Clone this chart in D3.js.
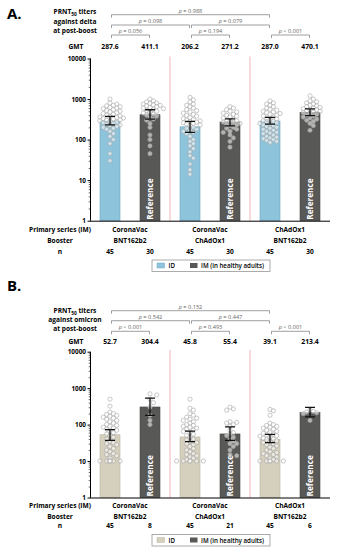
<!DOCTYPE html>
<html>
<head>
<meta charset="utf-8">
<script src="https://cdn.jsdelivr.net/npm/d3@7"></script>
<style>
  body { margin: 0; background: #fff; }
  svg text { font-family: "Open Sans", "Noto Sans", sans-serif; }
</style>
</head>
<body>
<svg id="chart" width="341" height="550"></svg>
<script>
// categories
var primarySeries = ["CoronaVac", "CoronaVac", "ChAdOx1"];
var boosters = ["BNT162b2", "ChAdOx1", "BNT162b2"];
var bars = ["ID", "IM", "ID", "IM", "ID", "IM"];
var yTicks = [1, 10, 100, 1000, 10000];

// panel A - delta
var gmtDelta = [287.6, 411.1, 206.2, 271.2, 287.0, 470.1];
var ciLowDelta = [232, 321, 150, 219, 241, 388];
var ciHighDelta = [372, 545, 280, 326, 354, 570];
var nDelta = [45, 30, 45, 30, 45, 30];
var pDelta = ["= 0.988", "= 0.098", "= 0.079", "= 0.056", "= 0.194", "< 0.001"];
var pointsDelta = [
  [1000, 800, 750, 700, 680, 650, 620, 600, 580, 550, 520, 500, 480, 460, 440, 420, 400, 380, 370, 360,
   350, 340, 330, 320, 310, 300, 290, 280, 270, 260, 250, 240, 230, 220, 210, 200, 190, 180, 160, 140,
   120, 100, 80, 45, 30],
  [1000, 900, 850, 800, 780, 750, 720, 700, 680, 650, 620, 600, 580, 550, 520, 500, 480, 450, 420, 400,
   380, 350, 320, 300, 250, 200, 130, 100, 70, 45],
  [1100, 950, 850, 750, 700, 650, 600, 550, 520, 480, 450, 420, 400, 380, 350, 330, 310, 300, 290, 280,
   270, 260, 250, 240, 230, 220, 200, 190, 180, 170, 160, 150, 140, 120, 100, 90, 80, 70, 60, 50,
   40, 35, 25, 18, 14],
  [650, 600, 550, 500, 480, 450, 420, 400, 380, 360, 340, 320, 300, 290, 280, 270, 260, 250, 240, 230,
   220, 200, 190, 180, 160, 150, 130, 110, 90, 65],
  [900, 800, 750, 700, 650, 600, 560, 530, 500, 480, 460, 440, 420, 400, 380, 360, 340, 320, 300, 290,
   280, 270, 260, 250, 240, 230, 220, 210, 200, 190, 180, 170, 160, 150, 145, 140, 130, 120, 115, 110,
   105, 100, 95, 90, 85],
  [1200, 1000, 900, 850, 800, 750, 700, 680, 650, 620, 600, 580, 560, 540, 520, 500, 480, 460, 440, 420,
   400, 380, 360, 340, 320, 300, 280, 250, 220, 170]
];

// panel B - omicron
var gmtOmicron = [52.7, 304.4, 45.8, 55.4, 39.1, 213.4];
var ciLowOmicron = [37, 180, 34, 37, 32, 163];
var ciHighOmicron = [73, 532, 66, 87, 54, 295];
var nOmicron = [45, 8, 45, 21, 45, 6];
var pOmicron = ["= 0.152", "= 0.542", "= 0.447", "< 0.001", "= 0.493", "< 0.001"];
var pointsOmicron = [
  [500, 320, 220, 200, 190, 180, 170, 160, 150, 140, 130, 120, 110, 100, 95, 90, 85, 80, 75, 70,
   65, 60, 55, 50, 45, 40, 35, 32, 30, 28, 25, 22, 20, 18, 16, 15, 14, 12, 10, 10,
   10, 10, 10, 10, 10],
  [700, 650, 500, 400, 300, 180, 130, 100],
  [500, 280, 250, 200, 180, 160, 150, 140, 130, 120, 110, 100, 95, 90, 85, 80, 75, 70, 65, 60,
   55, 50, 45, 40, 38, 35, 32, 30, 28, 25, 22, 20, 18, 16, 15, 14, 13, 12, 11, 10,
   10, 10, 10, 10, 10],
  [300, 270, 250, 120, 115, 110, 100, 90, 70, 60, 55, 50, 45, 40, 35, 30, 30, 25, 20, 15, 14],
  [260, 240, 180, 110, 100, 95, 90, 85, 80, 75, 70, 65, 60, 58, 55, 52, 50, 48, 45, 42,
   40, 38, 36, 34, 32, 30, 28, 26, 24, 22, 20, 18, 17, 16, 15, 14, 13, 12, 11, 10,
   10, 10, 10, 10, 10],
  [250, 230, 220, 210, 200, 130]
];

// comparison brackets: bar index pairs and level
var bracketPairs = [[0, 4], [0, 2], [2, 4], [0, 1], [2, 3], [4, 5]];
var bracketLevels = [0, 1, 1, 2, 2, 2];

var svg = d3.select("#chart");
var x = d3.scaleBand().domain(d3.range(6)).range([90, 330]).paddingInner(0.5).paddingOuter(0.25);

function drawPanel(cfg) {
  var g = svg.append("g");
  var y = d3.scaleLog().domain([1, 10000]).range([cfg.y0, cfg.y1]);
  var cx = function (i) { return x(i) + x.bandwidth() / 2; };

  g.append("text").attr("x", 7).attr("y", cfg.letterY)
    .attr("font-size", 15).attr("font-weight", 700).text(cfg.letter);

  // header
  var head = g.append("text").attr("text-anchor", "middle").attr("font-size", 6.6).attr("font-weight", 700);
  var l1 = head.append("tspan").attr("x", 75).attr("y", cfg.headY[0]).text("PRNT");
  l1.append("tspan").attr("font-size", 4.8).attr("dy", 1.5).text("50");
  l1.append("tspan").attr("dy", -1.5).text(" titers");
  head.append("tspan").attr("x", 75).attr("y", cfg.headY[1]).text(cfg.against);
  head.append("tspan").attr("x", 75).attr("y", cfg.headY[2]).text("at post-boost");

  // brackets
  bracketPairs.forEach(function (p, k) {
    var by = cfg.bracketY[bracketLevels[k]];
    var xa = cx(p[0]) + 1.5, xb = cx(p[1]) - 0.5;
    g.append("path")
      .attr("d", "M" + xa + "," + (by + 3) + "V" + by + "H" + xb + "V" + (by + 3))
      .attr("fill", "none").attr("stroke", "#777").attr("stroke-width", 0.7);
    var t = g.append("text").attr("x", (xa + xb) / 2).attr("y", by - 2.2)
      .attr("text-anchor", "middle").attr("font-size", 5.6).attr("fill", "#666");
    t.append("tspan").attr("font-style", "italic").text("p");
    t.append("tspan").text(" " + cfg.p[k]);
  });

  // GMT row
  g.append("text").attr("x", 76).attr("y", cfg.gmtY).attr("text-anchor", "middle")
    .attr("font-size", 6.6).attr("font-weight", 700).text("GMT");
  g.selectAll(".gmt").data(cfg.gmt).enter().append("text")
    .attr("x", function (d, i) { return cx(i); }).attr("y", cfg.gmtY)
    .attr("text-anchor", "middle").attr("font-size", 6.8).attr("font-weight", 700)
    .text(function (d) { return d.toFixed(1); });

  // red separators
  [2, 4].forEach(function (i) {
    var sx = x(i) - 10;
    g.append("line").attr("x1", sx).attr("x2", sx).attr("y1", cfg.y1 - 2).attr("y2", cfg.y0)
      .attr("stroke", "#eaa3a3").attr("stroke-width", 0.8);
  });

  // bars
  g.selectAll(".bar").data(cfg.gmt).enter().append("rect")
    .attr("x", function (d, i) { return x(i); })
    .attr("y", function (d) { return y(d); })
    .attr("width", x.bandwidth())
    .attr("height", function (d) { return cfg.y0 - y(d); })
    .attr("fill", function (d, i) { return bars[i] === "ID" ? cfg.idColor : "#585856"; })
    .attr("stroke", function (d, i) { return bars[i] === "ID" ? cfg.idStroke : "#4a4a48"; })
    .attr("stroke-width", 0.6);

  // reference labels
  g.selectAll(".ref").data(cfg.gmt.filter(function (d, i) { return bars[i] === "IM"; })).enter()
    .append("text")
    .attr("transform", function (d, k) { return "translate(" + (cx(k * 2 + 1) + 3) + "," + (cfg.y0 - 1) + ") rotate(-90)"; })
    .attr("fill", "#fff").attr("font-size", 8.2).attr("font-weight", 700).text("Reference");

  // points (simple dodge layout)
  var r = 2.1;
  cfg.points.forEach(function (vals, i) {
    var placed = [];
    vals.forEach(function (v) {
      var py = y(v);
      var offs = [0, 1, -1, 2, -2, 3, -3, 4, -4];
      var px = cx(i);
      for (var k = 0; k < offs.length; k++) {
        var tx = cx(i) + offs[k] * r * 1.6;
        var ok = placed.every(function (q) { return Math.hypot(q[0] - tx, q[1] - py) >= r * 1.7; });
        if (ok) { px = tx; break; }
      }
      placed.push([px, py]);
    });
    g.selectAll(".pt" + i).data(placed).enter().append("circle")
      .attr("cx", function (d) { return d[0]; }).attr("cy", function (d) { return d[1]; })
      .attr("r", r).attr("fill", "#fff").attr("fill-opacity", 0.55)
      .attr("stroke", "#a5a5a5").attr("stroke-width", 0.6);
  });

  // error bars
  cfg.gmt.forEach(function (d, i) {
    var c = cx(i), lo = y(cfg.ciLow[i]), hi = y(cfg.ciHigh[i]);
    g.append("path")
      .attr("d", "M" + (c - 5) + "," + hi + "H" + (c + 5) + "M" + c + "," + hi + "V" + lo + "M" + (c - 5) + "," + lo + "H" + (c + 5))
      .attr("stroke", "#111").attr("stroke-width", 1.3).attr("fill", "none");
  });

  // axes
  var minor = [];
  for (var e = 0; e < 4; e++) for (var m = 2; m < 10; m++) minor.push(m * Math.pow(10, e));
  g.append("g").attr("transform", "translate(90.5,0)")
    .call(d3.axisLeft(y).tickValues(minor).tickSize(1.8).tickFormat(""))
    .call(function (a) { a.select(".domain").remove(); a.selectAll("line").attr("stroke-width", 0.6); });
  g.append("g").attr("transform", "translate(90.5,0)")
    .call(d3.axisLeft(y).tickValues(yTicks).tickSize(3).tickPadding(1.5).tickFormat(d3.format("d")))
    .call(function (a) {
      a.select(".domain").attr("d", "M0," + cfg.y1 + "V" + cfg.y0);
      a.selectAll("text").attr("font-size", 6.4).attr("font-weight", 700).attr("fill", "#000")
        .style("font-family", "'Open Sans', sans-serif");
    });
  g.append("line").attr("x1", 90).attr("x2", 330).attr("y1", cfg.y0 + 0.5).attr("y2", cfg.y0 + 0.5)
    .attr("stroke", "#000").attr("stroke-width", 1);

  // bottom rows
  var rows = [["Primary series (IM)", cfg.rowY[0]], ["Booster", cfg.rowY[1]], ["n", cfg.rowY[2]]];
  rows.forEach(function (rw) {
    g.append("text").attr("x", 60).attr("y", rw[1]).attr("text-anchor", "middle")
      .attr("font-size", 6.6).attr("font-weight", 700).text(rw[0]);
  });
  primarySeries.forEach(function (s, j) {
    var gx = (cx(j * 2) + cx(j * 2 + 1)) / 2;
    g.append("text").attr("x", gx).attr("y", cfg.rowY[0]).attr("text-anchor", "middle")
      .attr("font-size", 6.6).attr("font-weight", 700).text(s);
    g.append("text").attr("x", gx).attr("y", cfg.rowY[1]).attr("text-anchor", "middle")
      .attr("font-size", 6.6).attr("font-weight", 700).text(boosters[j]);
  });
  g.selectAll(".n").data(cfg.n).enter().append("text")
    .attr("x", function (d, i) { return cx(i); }).attr("y", cfg.rowY[2])
    .attr("text-anchor", "middle").attr("font-size", 6.6).attr("font-weight", 700)
    .text(function (d) { return d; });

  // legend
  var lg = g.append("g").attr("transform", "translate(152," + cfg.legendY + ")");
  lg.append("rect").attr("width", 118).attr("height", 11.5).attr("fill", "#fff")
    .attr("stroke", "#888").attr("stroke-width", 0.7);
  lg.append("rect").attr("x", 5).attr("y", 3).attr("width", 7.5).attr("height", 5)
    .attr("fill", cfg.idColor).attr("stroke", cfg.idStroke).attr("stroke-width", 0.5);
  lg.append("text").attr("x", 16.5).attr("y", 8.3).attr("font-size", 6.2).attr("font-weight", 600).text("ID");
  lg.append("rect").attr("x", 38).attr("y", 3).attr("width", 7.5).attr("height", 5).attr("fill", "#585856");
  lg.append("text").attr("x", 49).attr("y", 8.3).attr("font-size", 6.2).attr("font-weight", 600)
    .text("IM (in healthy adults)");
}

drawPanel({
  letter: "A.", letterY: 19, against: "against delta",
  headY: [14, 23.5, 32.5], bracketY: [14.7, 25, 35], gmtY: 48.5,
  y0: 220.7, y1: 58.5,
  gmt: gmtDelta, ciLow: ciLowDelta, ciHigh: ciHighDelta, n: nDelta, p: pDelta, points: pointsDelta,
  idColor: "#8ec4db", idStroke: "#6ea6bf",
  rowY: [231.5, 243, 254], legendY: 260
});

drawPanel({
  letter: "B.", letterY: 291, against: "against omicron",
  headY: [313, 322, 330.5], bracketY: [310.7, 320.7, 331.3], gmtY: 344,
  y0: 497.5, y1: 351.7,
  gmt: gmtOmicron, ciLow: ciLowOmicron, ciHigh: ciHighOmicron, n: nOmicron, p: pOmicron, points: pointsOmicron,
  idColor: "#d5cfbd", idStroke: "#bdb6a2",
  rowY: [508, 519, 527.5], legendY: 534.5
});
</script>
</body>
</html>
